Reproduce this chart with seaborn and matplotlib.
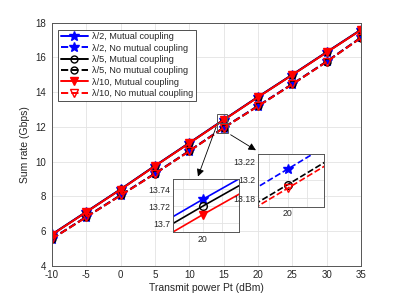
import numpy as np
import pandas as pd
import matplotlib
matplotlib.use("Agg")
import matplotlib.pyplot as plt
import seaborn as sns
from matplotlib.patches import Rectangle

# DATA
power = [-10, -5, 0, 5, 10, 15, 20, 25, 30, 35]
mc_l2 = [5.81, 7.11, 8.41, 9.76, 11.08, 12.41, 13.728, 15.01, 16.31, 17.60]
mc_l5 = [5.80, 7.10, 8.40, 9.75, 11.07, 12.40, 13.720, 15.00, 16.30, 17.59]
mc_l10 = [5.79, 7.09, 8.39, 9.74, 11.06, 12.39, 13.710, 14.99, 16.29, 17.58]
nmc_l2 = [5.56, 6.82, 8.07, 9.32, 10.62, 11.96, 13.212, 14.47, 15.77, 17.15]
nmc_l5 = [5.55, 6.81, 8.06, 9.31, 10.61, 11.95, 13.195, 14.46, 15.76, 17.14]
nmc_l10 = [5.55, 6.80, 8.05, 9.30, 10.60, 11.94, 13.191, 14.45, 15.75, 17.13]

labels = ["\u03bb/2, Mutual coupling", "\u03bb/2, No mutual coupling",
          "\u03bb/5, Mutual coupling", "\u03bb/5, No mutual coupling",
          "\u03bb/10, Mutual coupling", "\u03bb/10, No mutual coupling"]
series = [mc_l2, nmc_l2, mc_l5, nmc_l5, mc_l10, nmc_l10]

# style for each series: color, linestyle, marker, facecolor, size
styles = [
    ("blue", "-", "*", "blue", 7),
    ("blue", "--", "*", "blue", 7),
    ("black", "-", "o", "none", 5),
    ("black", "--", "o", "none", 5),
    ("red", "-", "v", "red", 5.5),
    ("red", "--", "v", "none", 5.5),
]

sns.set_style("white")
plt.rcParams["font.family"] = ["Liberation Sans", "DejaVu Sans"]
plt.rcParams["axes.unicode_minus"] = False

df = pd.DataFrame({"power": power})
for lab, s in zip(labels, series):
    df[lab] = s


def draw(ax, lw=1.4, ms_scale=1.0):
    for lab, (c, ls, mk, fc, ms) in zip(labels, styles):
        sns.lineplot(data=df, x="power", y=lab, ax=ax, color=c, linestyle=ls,
                     marker=mk, markersize=ms * ms_scale, markerfacecolor=fc,
                     markeredgecolor=c, markeredgewidth=1.0, linewidth=lw,
                     label=lab, legend=False)


def style_axes(ax, fs):
    for sp in ax.spines.values():
        sp.set_color("#555555")
        sp.set_linewidth(0.7)
    ax.grid(True, color="#e3e3e3", linewidth=0.6)
    ax.tick_params(direction="in", length=2.5, width=0.5, labelsize=fs,
                   colors="#333333", labelcolor="#262626", pad=2)
    ax.set_xlabel("")
    ax.set_ylabel("")


fig = plt.figure(figsize=(3.99, 2.98), dpi=100)
ax = fig.add_axes([0.130, 0.108, 0.775, 0.816])
draw(ax)
style_axes(ax, 7)
ax.tick_params(axis="y", pad=4)
ax.tick_params(axis="x", pad=3)
ax.set_xlim(-10, 35)
ax.set_ylim(4, 18)
ax.set_xticks(range(-10, 36, 5))
ax.set_yticks(range(4, 19, 2))
ax.set_xlabel("Transmit power Pt (dBm)", fontsize=7.5, color="#262626", labelpad=2)
ax.set_ylabel("Sum rate (Gbps)", fontsize=7.5, color="#262626", labelpad=4)

leg = ax.legend(loc="upper left", fontsize=6.6, handlelength=3.0,
                fancybox=False, framealpha=1, borderpad=0.3, labelspacing=0.25,
                handletextpad=0.4, bbox_to_anchor=(0.005, 0.99))
leg.get_frame().set_edgecolor("#333333")
leg.get_frame().set_linewidth(0.6)

# zoom boxes on main axes
ax.add_patch(Rectangle((14.0, 12.2), 1.53, 0.52, fill=False, ec="#555555", lw=0.7, zorder=5))
ax.add_patch(Rectangle((14.07, 11.63), 1.6, 0.57, fill=False, ec="#555555", lw=0.7, zorder=5))
arrow = dict(arrowstyle="-|>", color="black", lw=0.6, mutation_scale=11)
ax.annotate("", xy=(11.12, 8.99), xytext=(14.05, 12.15), arrowprops=arrow, zorder=6)
ax.annotate("", xy=(20.04, 10.57), xytext=(15.67, 11.63), arrowprops=arrow, zorder=6)

# inset 1: mutual coupling
ins1 = fig.add_axes([0.4328, 0.2215, 0.1662, 0.1779])
draw(ins1, lw=1.2, ms_scale=1.1)
style_axes(ins1, 6.3)
ins1.set_xlim(19.922, 20.094)
ins1.set_ylim(13.6896, 13.752)
ins1.set_xticks([19.95, 20, 20.05])
ins1.set_xticklabels(["", "20", ""])
ins1.set_yticks([13.70, 13.72, 13.74])
ins1.set_yticklabels(["13.7", "13.72", "13.74"])

# inset 2: no mutual coupling
ins2 = fig.add_axes([0.6474, 0.3064, 0.1647, 0.1768])
draw(ins2, lw=1.2, ms_scale=1.1)
style_axes(ins2, 6.3)
ins2.set_xlim(19.923, 20.0945)
ins2.set_ylim(13.1708, 13.2284)
ins2.set_xticks([19.95, 20, 20.05])
ins2.set_xticklabels(["", "20", ""])
ins2.set_yticks([13.18, 13.20, 13.22])
ins2.set_yticklabels(["13.18", "13.2", "13.22"])

fig.savefig("out.png", dpi=100)
